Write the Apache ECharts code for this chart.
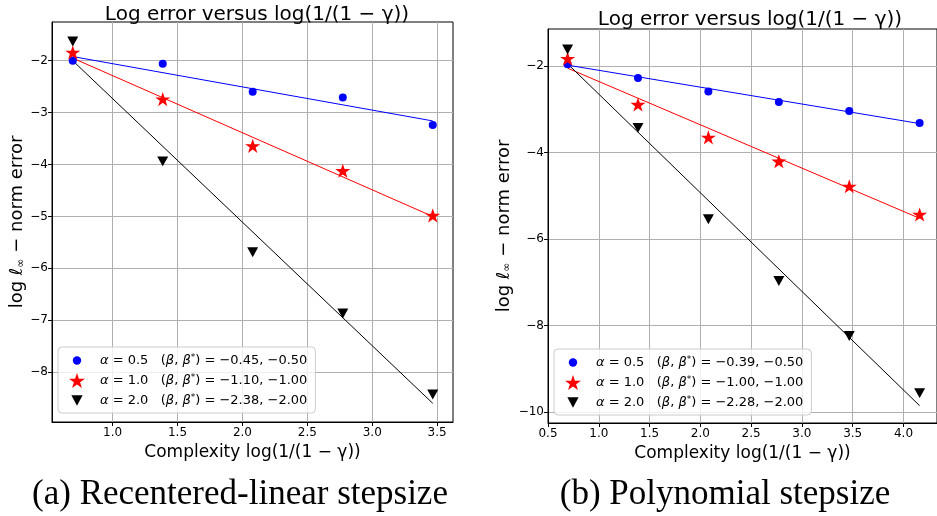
<!DOCTYPE html>
<html>
<head>
<meta charset="utf-8">
<script src="https://cdn.jsdelivr.net/npm/echarts@6/dist/echarts.min.js"></script>
<style>html,body{margin:0;padding:0;background:#fff}#c{width:937px;height:516px}</style>
</head>
<body>
<div id="c"></div>
<script>
// ---- data (a) Recentered-linear stepsize ----
const xA = [0.693, 1.386, 2.079, 2.773, 3.466];
const a05A = [-2.00, -2.06, -2.60, -2.71, -3.24];
const a10A = [-1.84, -2.74, -3.64, -4.12, -4.98];
const a20A = [-1.63, -3.94, -5.69, -6.87, -8.43];
const fitXA = [0.693, 3.466];
const fit05A = [-1.92, -3.16];
const fit10A = [-1.95, -5.00];
const fit20A = [-2.00, -8.60];
const betaA = ['−0.45, −0.50', '−1.10, −1.00', '−2.38, −2.00'];
const xTicksA = [1.0, 1.5, 2.0, 2.5, 3.0, 3.5];
const yTicksA = [-8, -7, -6, -5, -4, -3, -2];

// ---- data (b) Polynomial stepsize ----
const xB = [0.693, 1.386, 2.079, 2.773, 3.466, 4.159];
const a05B = [-1.96, -2.28, -2.59, -2.83, -3.04, -3.32];
const a10B = [-1.83, -2.89, -3.65, -4.20, -4.78, -5.43];
const a20B = [-1.62, -3.43, -5.54, -6.97, -8.24, -9.56];
const fitXB = [0.693, 4.159];
const fit05B = [-1.98, -3.33];
const fit10B = [-2.05, -5.52];
const fit20B = [-1.95, -9.85];
const betaB = ['−0.39, −0.50', '−1.00, −1.00', '−2.28, −2.00'];
const xTicksB = [0.5, 1.0, 1.5, 2.0, 2.5, 3.0, 3.5, 4.0];
const yTicksB = [-10, -8, -6, -4, -2];

const alphas = ['0.5', '1.0', '2.0'];
const titleText = 'Log error versus log(1/(1 − γ))';
const xName = 'Complexity log(1/(1 − γ))';
const captions = ['(a) Recentered-linear stepsize', '(b) Polynomial stepsize'];

const colors = ['#0000ff', '#ff0000', '#000000'];
const STAR = 'path://M50,0 L61.8,35.1 L98.9,35.1 L69,56.9 L80.2,91.9 L50,70.2 L19.8,91.9 L31,56.9 L1.1,35.1 L38.2,35.1 Z';
const TRI = 'path://M0,0 L10,0 L5,9 Z';
const symbols = ['circle', STAR, TRI];
const sizes = [8, 15, 11];
// legend icons (padded paths so they draw at the reference's smaller sizes)
const legendIcons = [
  'path://M0,0 M16,16 M3.5,8 A4.5,4.5 0 1,1 12.5,8 A4.5,4.5 0 1,1 3.5,8 Z',
  STAR,
  'path://M0,0 M16,16 M2,2.5 L14,2.5 L8,13.5 Z'
];
const FONT = 'DejaVu Sans';

const zip = (xs, ys) => xs.map((x, i) => [x, ys[i]]);
const minus = v => String(v).replace('-', '−');

const chart = echarts.init(document.getElementById('c'), null, {renderer: 'canvas'});

const grids = [
  {left: 52, top: 22, width: 401, height: 400, show: true, borderColor: '#000', borderWidth: 1},
  {left: 548, top: 29, width: 393, height: 394, show: true, borderColor: '#000', borderWidth: 1}
];

function xAxisDef(gi, min, max, ticks) {
  return {
    type: 'value', gridIndex: gi, min: min, max: max,
    name: xName, nameLocation: 'middle', nameGap: 18,
    nameTextStyle: {fontFamily: FONT, fontSize: 17, color: '#000'},
    axisLine: {show: true, lineStyle: {color: '#000', width: 1}},
    axisTick: {show: true, length: 4, customValues: ticks, lineStyle: {color: '#000'}},
    axisLabel: {customValues: ticks, formatter: v => v.toFixed(1), fontFamily: FONT, fontSize: 12, color: '#000', margin: 5},
    splitLine: {show: true, lineStyle: {color: '#b0b0b0', width: 1}}
  };
}
function yAxisDef(gi, min, max, ticks, gap) {
  return {
    type: 'value', gridIndex: gi, min: min, max: max,
    name: 'log {it|ℓ}{sub|∞} − norm error', nameLocation: 'middle', nameGap: gap, nameRotate: 90,
    nameTextStyle: {fontFamily: FONT, fontSize: 18, color: '#000',
      rich: {it: {fontFamily: FONT, fontStyle: 'italic', fontSize: 18}, sub: {fontFamily: FONT, fontSize: 11, padding: [7, 0, 0, 0]}}},
    axisLine: {show: true, lineStyle: {color: '#000', width: 1}},
    axisTick: {show: true, length: 4, customValues: ticks, lineStyle: {color: '#000'}},
    axisLabel: {customValues: ticks, formatter: v => minus(v), fontFamily: FONT, fontSize: 12, color: '#000', margin: 4},
    splitLine: {show: true, lineStyle: {color: '#b0b0b0', width: 1}}
  };
}

const series = [];
const legendText = {};
function addPanel(panel, gi, xs, pts, fitX, fits, betas) {
  const names = [];
  for (let k = 0; k < 3; k++) {
    const nm = panel + k;
    names.push({name: nm, icon: legendIcons[k]});
    legendText[nm] = '{i|α} = ' + alphas[k] + '   ({i|β}, {i|β}{sup|*}) = ' + betas[k];
    series.push({
      type: 'line', xAxisIndex: gi, yAxisIndex: gi, data: zip(fitX, fits[k]),
      showSymbol: false, symbol: 'none', silent: true, z: 2,
      lineStyle: {color: colors[k], width: 1}
    });
    series.push({
      name: nm, type: 'scatter', xAxisIndex: gi, yAxisIndex: gi, data: zip(xs, pts[k]),
      symbol: symbols[k], symbolSize: sizes[k], symbolKeepAspect: true, z: 3,
      itemStyle: {color: colors[k], opacity: 1}
    });
  }
  return names;
}
const namesA = addPanel('A', 0, xA, [a05A, a10A, a20A], fitXA, [fit05A, fit10A, fit20A], betaA);
const namesB = addPanel('B', 1, xB, [a05B, a10B, a20B], fitXB, [fit05B, fit10B, fit20B], betaB);

function legendDef(data, left, top) {
  return {
    data: data, orient: 'vertical', left: left, top: top,
    itemWidth: 16, itemHeight: 15, itemGap: 5, padding: [6, 8, 5, 11],
    backgroundColor: 'rgba(255,255,255,0.8)', borderColor: '#cccccc', borderWidth: 1, borderRadius: 4,
    selectedMode: false,
    formatter: n => legendText[n],
    textStyle: {fontFamily: FONT, fontSize: 13, color: '#000', padding: [0, 0, 0, 10],
      rich: {i: {fontFamily: FONT, fontStyle: 'italic', fontSize: 13}, sup: {fontFamily: FONT, fontSize: 9, padding: [0, 0, 6, 0]}}}
  };
}

const option = {
  animation: false,
  backgroundColor: '#fff',
  title: [
    {text: titleText, left: 252, top: 0, textAlign: 'center', textStyle: {fontFamily: FONT, fontSize: 20, fontWeight: 'normal', color: '#000'}},
    {text: titleText, left: 745, top: 5, textAlign: 'center', textStyle: {fontFamily: FONT, fontSize: 20, fontWeight: 'normal', color: '#000'}},
    {text: captions[0], left: 235, top: 472, textAlign: 'center', textStyle: {fontFamily: 'Liberation Serif', fontSize: 35, fontWeight: 'normal', color: '#000'}},
    {text: captions[1], left: 720, top: 472, textAlign: 'center', textStyle: {fontFamily: 'Liberation Serif', fontSize: 35, fontWeight: 'normal', color: '#000'}}
  ],
  grid: grids,
  xAxis: [xAxisDef(0, 0.533, 3.622, xTicksA), xAxisDef(1, 0.5, 4.33, xTicksB)],
  yAxis: [yAxisDef(0, -8.96, -1.254, yTicksA, 24), yAxisDef(1, -10.25, -1.145, yTicksB, 35)],
  legend: [legendDef(namesA, 58, 347), legendDef(namesB, 554, 349)],
  series: series
};
chart.setOption(option);
</script>
</body>
</html>
